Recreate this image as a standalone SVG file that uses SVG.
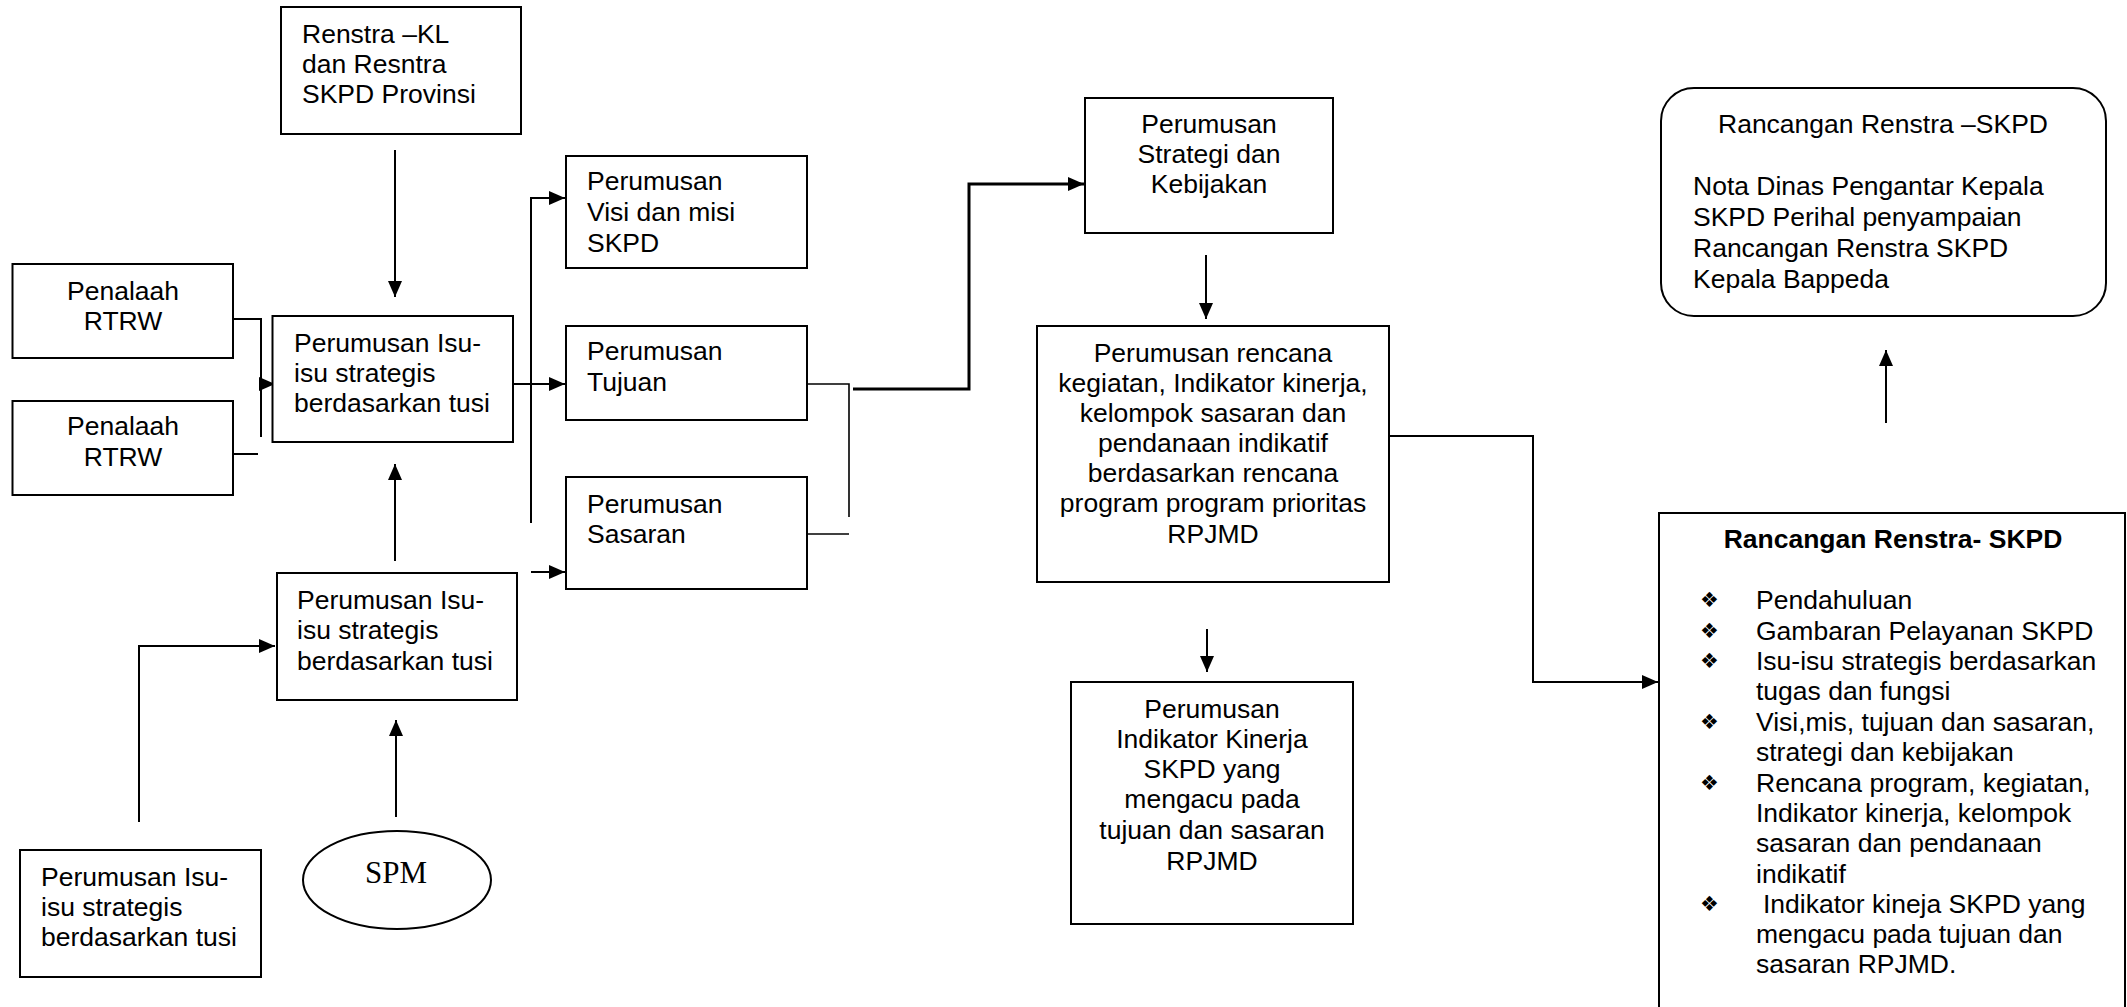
<svg xmlns="http://www.w3.org/2000/svg" width="2127" height="1007" viewBox="0 0 2127 1007">
<style>
.box{fill:#fff;stroke:#000;stroke-width:2}
.t{font-family:"Liberation Sans",Arial,sans-serif;font-size:26.5px;fill:#000}
.c{text-anchor:middle}
.b{font-weight:bold}
.ln{fill:none;stroke:#000;stroke-width:2}
.thin{fill:none;stroke:#000;stroke-width:1.6}
.thick{fill:none;stroke:#000;stroke-width:3}
.bul{font-family:"DejaVu Sans",sans-serif;font-size:21px;fill:#000}
</style>
<defs>
<marker id="ah" markerUnits="userSpaceOnUse" markerWidth="16" markerHeight="14" refX="16" refY="7" orient="auto">
<path d="M0,0 L16,7 L0,14 z" fill="#000"/>
</marker>
</defs>
<rect width="2127" height="1007" fill="#fff"/>

<g id="connectors">
<line class="ln" x1="395" y1="150" x2="395" y2="297" marker-end="url(#ah)"/>
<polyline class="ln" points="233,319 261,319 261,437"/>
<line class="ln" x1="259" y1="384" x2="275" y2="384" marker-end="url(#ah)"/>
<line class="ln" x1="233" y1="454" x2="258" y2="454"/>
<line class="ln" x1="395" y1="561" x2="395" y2="464" marker-end="url(#ah)"/>
<line class="ln" x1="396" y1="817" x2="396" y2="720" marker-end="url(#ah)"/>
<polyline class="ln" points="139,822 139,646 275,646" marker-end="url(#ah)"/>
<line class="ln" x1="513" y1="384" x2="565" y2="384" marker-end="url(#ah)"/>
<polyline class="ln" points="531,523 531,198 565,198" marker-end="url(#ah)"/>
<line class="ln" x1="531" y1="572" x2="565" y2="572" marker-end="url(#ah)"/>
<polyline class="thin" points="807,384 849,384 849,517"/>
<line class="thin" x1="807" y1="534" x2="849" y2="534"/>
<polyline class="thick" points="853,389 969,389 969,184 1084,184" marker-end="url(#ah)"/>
<line class="ln" x1="1206" y1="255" x2="1206" y2="319" marker-end="url(#ah)"/>
<line class="ln" x1="1207" y1="629" x2="1207" y2="672" marker-end="url(#ah)"/>
<polyline class="ln" points="1389,436 1533,436 1533,682 1658,682" marker-end="url(#ah)"/>
<line class="ln" x1="1886" y1="423" x2="1886" y2="350" marker-end="url(#ah)"/>
</g>

<g id="renstra-kl">
<rect class="box" x="281" y="7" width="240" height="127"/>
<text class="t" x="302" y="43">Renstra –KL</text>
<text class="t" x="302" y="73">dan Resntra</text>
<text class="t" x="302" y="103">SKPD Provinsi</text>
</g>

<g id="penalaah-1">
<rect class="box" x="12.5" y="264" width="220.5" height="94"/>
<text class="t c" x="123" y="300">Penalaah</text>
<text class="t c" x="123" y="330">RTRW</text>
</g>

<g id="penalaah-2">
<rect class="box" x="12.5" y="401" width="220.5" height="94"/>
<text class="t c" x="123" y="435">Penalaah</text>
<text class="t c" x="123" y="466">RTRW</text>
</g>

<g id="isu-upper">
<rect class="box" x="272.5" y="316" width="240.5" height="126"/>
<text class="t" x="294" y="352">Perumusan Isu-</text>
<text class="t" x="294" y="382">isu strategis</text>
<text class="t" x="294" y="412">berdasarkan tusi</text>
</g>

<g id="isu-lower">
<rect class="box" x="277" y="573" width="240" height="127"/>
<text class="t" x="297" y="609">Perumusan Isu-</text>
<text class="t" x="297" y="639">isu strategis</text>
<text class="t" x="297" y="670">berdasarkan tusi</text>
</g>

<g id="isu-bottom-left">
<rect class="box" x="20" y="850" width="241" height="127"/>
<text class="t" x="41" y="886">Perumusan Isu-</text>
<text class="t" x="41" y="916">isu strategis</text>
<text class="t" x="41" y="946">berdasarkan tusi</text>
</g>

<g id="spm">
<ellipse class="box" cx="397" cy="880" rx="94" ry="49"/>
<text x="396" y="883" text-anchor="middle" style="font-family:'Liberation Serif','Times New Roman',serif;font-size:31px">SPM</text>
</g>

<g id="visi">
<rect class="box" x="566" y="156" width="241" height="112"/>
<text class="t" x="587" y="190">Perumusan</text>
<text class="t" x="587" y="221">Visi dan misi</text>
<text class="t" x="587" y="252">SKPD</text>
</g>

<g id="tujuan">
<rect class="box" x="566" y="326" width="241" height="94"/>
<text class="t" x="587" y="360">Perumusan</text>
<text class="t" x="587" y="391">Tujuan</text>
</g>

<g id="sasaran">
<rect class="box" x="566" y="477" width="241" height="112"/>
<text class="t" x="587" y="513">Perumusan</text>
<text class="t" x="587" y="543">Sasaran</text>
</g>

<g id="strategi">
<rect class="box" x="1085" y="98" width="248" height="135"/>
<text class="t c" x="1209" y="133">Perumusan</text>
<text class="t c" x="1209" y="163">Strategi dan</text>
<text class="t c" x="1209" y="193">Kebijakan</text>
</g>

<g id="rencana">
<rect class="box" x="1037" y="326" width="352" height="256"/>
<text class="t c" x="1213" y="362">Perumusan rencana</text>
<text class="t c" x="1213" y="392">kegiatan, Indikator kinerja,</text>
<text class="t c" x="1213" y="422">kelompok sasaran dan</text>
<text class="t c" x="1213" y="452">pendanaan indikatif</text>
<text class="t c" x="1213" y="482">berdasarkan rencana</text>
<text class="t c" x="1213" y="512">program program prioritas</text>
<text class="t c" x="1213" y="543">RPJMD</text>
</g>

<g id="indikator">
<rect class="box" x="1071" y="682" width="282" height="242"/>
<text class="t c" x="1212" y="718">Perumusan</text>
<text class="t c" x="1212" y="748">Indikator Kinerja</text>
<text class="t c" x="1212" y="778">SKPD yang</text>
<text class="t c" x="1212" y="808">mengacu pada</text>
<text class="t c" x="1212" y="839">tujuan dan sasaran</text>
<text class="t c" x="1212" y="870">RPJMD</text>
</g>

<g id="rancangan-nota">
<rect class="box" x="1661" y="88" width="445" height="228" rx="33" ry="33"/>
<text class="t c" x="1883" y="133">Rancangan Renstra –SKPD</text>
<text class="t" x="1693" y="195">Nota Dinas Pengantar Kepala</text>
<text class="t" x="1693" y="226">SKPD Perihal penyampaian</text>
<text class="t" x="1693" y="257">Rancangan Renstra SKPD</text>
<text class="t" x="1693" y="288">Kepala Bappeda</text>
</g>

<g id="rancangan-renstra">
<rect class="box" x="1659" y="513" width="466" height="520"/>
<text class="t c b" x="1893" y="548">Rancangan Renstra- SKPD</text>
<text class="bul" x="1700" y="607">❖</text>
<text class="bul" x="1700" y="638">❖</text>
<text class="bul" x="1700" y="668">❖</text>
<text class="bul" x="1700" y="729">❖</text>
<text class="bul" x="1700" y="790">❖</text>
<text class="bul" x="1700" y="911">❖</text>
<text class="t" x="1756" y="609">Pendahuluan</text>
<text class="t" x="1756" y="640">Gambaran Pelayanan SKPD</text>
<text class="t" x="1756" y="670">Isu-isu strategis berdasarkan</text>
<text class="t" x="1756" y="700">tugas dan fungsi</text>
<text class="t" x="1756" y="731">Visi,mis, tujuan dan sasaran,</text>
<text class="t" x="1756" y="761">strategi dan kebijakan</text>
<text class="t" x="1756" y="792">Rencana program, kegiatan,</text>
<text class="t" x="1756" y="822">Indikator kinerja, kelompok</text>
<text class="t" x="1756" y="852">sasaran dan pendanaan</text>
<text class="t" x="1756" y="883">indikatif</text>
<text class="t" x="1763" y="913">Indikator kineja SKPD yang</text>
<text class="t" x="1756" y="943">mengacu pada tujuan dan</text>
<text class="t" x="1756" y="973">sasaran RPJMD.</text>
</g>
</svg>
